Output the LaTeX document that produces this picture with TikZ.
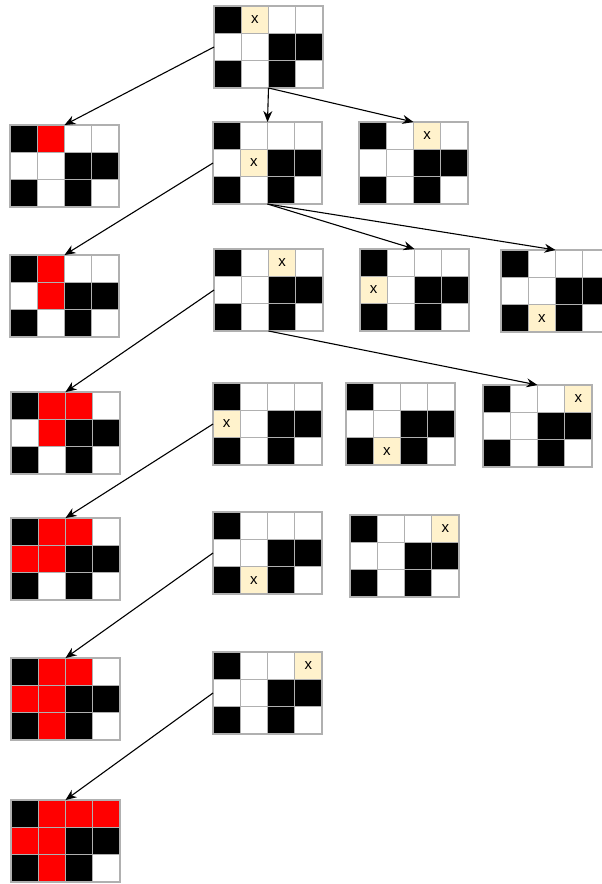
\documentclass[tikz,border=0pt]{standalone}
\usepackage{fontspec}
\setmainfont{Liberation Sans}
\usetikzlibrary{arrows.meta}

\definecolor{markfill}{HTML}{FFF2CC}
\definecolor{gridline}{HTML}{B0B0B0}

% one 4x3 board: name, left, top, three rows of cell codes (k, w, r, x)
\newcommand{\board}[6]{%
  \node[boardframe, anchor=north west] (#1) at (#2,#3) {};
  \foreach \row [count=\r from 0] in {{#4},{#5},{#6}} {
    \foreach \c [count=\q from 0] in \row {
      \node[cell\c] at ({#2+(\q+0.5)*27.25},{#3+(\r+0.5)*27.3}) {};
    }
  }
}

\begin{document}
\begin{tikzpicture}[
    x=1pt, y=-1pt,
    boardframe/.style={rectangle, inner sep=0pt, outer sep=0pt, minimum width=109pt, minimum height=82pt},
    cellw/.style={rectangle, draw=gridline, line width=1.2pt, fill=white, inner sep=0pt, outer sep=0pt, minimum width=27.25pt, minimum height=27.3pt},
    cellk/.style={cellw, fill=black},
    cellr/.style={cellw, fill=red},
    cellx/.style={cellw, fill=markfill, label={[font=\fontsize{15}{17}\selectfont]center:x}},
    arrow/.style={-{Stealth[length=11pt,width=9pt]}, line width=1.1pt, black}
]
    \useasboundingbox (0,0) rectangle (602,884);

    % Boards
    \board{g0}{214}{6}{k,x,w,w}{w,w,k,k}{k,w,k,w}

    \board{l1}{10}{125}{k,r,w,w}{w,w,k,k}{k,w,k,w}
    \board{m1}{213}{122}{k,w,w,w}{w,x,k,k}{k,w,k,w}
    \board{r1}{359}{122}{k,w,x,w}{w,w,k,k}{k,w,k,w}

    \board{l2}{10}{255}{k,r,w,w}{w,r,k,k}{k,w,k,w}
    \board{m2}{214}{249}{k,w,x,w}{w,w,k,k}{k,w,k,w}
    \board{a2}{360}{249}{k,w,w,w}{x,w,k,k}{k,w,k,w}
    \board{b2}{501}{250}{k,w,w,w}{w,w,k,k}{k,x,k,w}

    \board{l3}{11}{392}{k,r,r,w}{w,r,k,k}{k,w,k,w}
    \board{m3}{213}{383}{k,w,w,w}{x,w,k,k}{k,w,k,w}
    \board{a3}{346}{383}{k,w,w,w}{w,w,k,k}{k,x,k,w}
    \board{b3}{483}{385}{k,w,w,x}{w,w,k,k}{k,w,k,w}

    \board{l4}{11}{518}{k,r,r,w}{r,r,k,k}{k,w,k,w}
    \board{m4}{213}{512}{k,w,w,w}{w,w,k,k}{k,x,k,w}
    \board{a4}{350}{515}{k,w,w,x}{w,w,k,k}{k,w,k,w}

    \board{l5}{11}{658}{k,r,r,w}{r,r,k,k}{k,r,k,w}
    \board{m5}{213}{652}{k,w,w,x}{w,w,k,k}{k,w,k,w}

    \board{l6}{11}{800}{k,r,r,r}{r,r,k,k}{k,r,k,w}

    % Arrows
    \draw[arrow] (g0.west) -- (l1.north);
    \draw[arrow] (g0.south) -- (m1.north);
    \draw[arrow] (g0.south) -- (r1.north);
    \draw[arrow] (m1.west) -- (l2.north);
    \draw[arrow] (m1.south) -- (a2.north);
    \draw[arrow] (m1.south) -- (b2.north);
    \draw[arrow] (m2.west) -- (l3.north);
    \draw[arrow] (m2.south) -- (b3.north);
    \draw[arrow] (m3.west) -- (l4.north);
    \draw[arrow] (m4.west) -- (l5.north);
    \draw[arrow] (m5.west) -- (l6.north);
\end{tikzpicture}
\end{document}
